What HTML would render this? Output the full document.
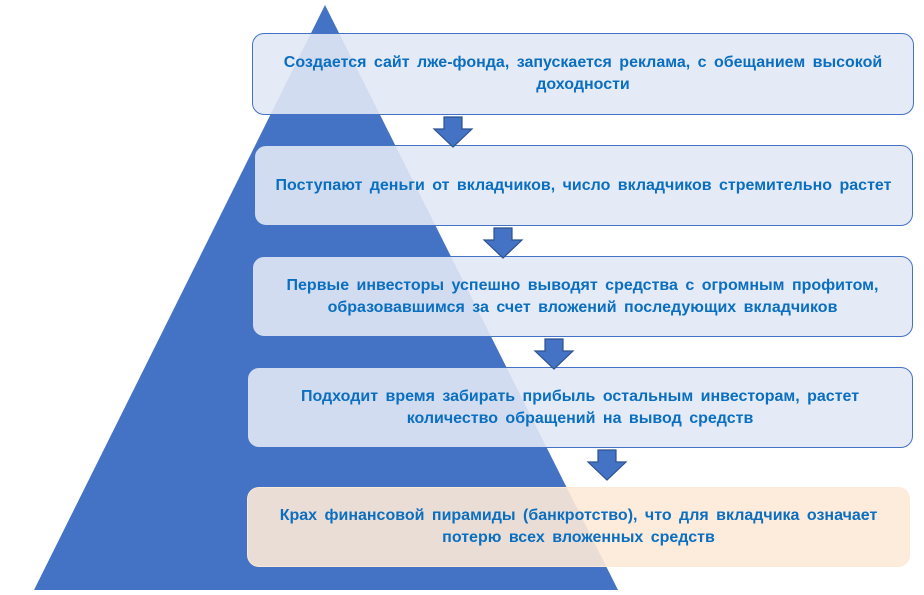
<!DOCTYPE html>
<html><head><meta charset="utf-8"><style>
body{margin:0;width:924px;height:595px;background:#fff;position:relative;overflow:hidden;font-family:"Liberation Sans",sans-serif}
.b{position:absolute;box-sizing:border-box;border:1.5px solid #4472c4;border-radius:12px;background:rgba(225,232,245,0.9);display:flex;align-items:center;justify-content:center;text-align:center;color:#0a6fc0;font-weight:bold;font-size:16px;line-height:22px;padding:0 6px;word-spacing:3px;white-space:nowrap}
.p{background:rgba(253,233,216,0.9);border-color:rgba(253,233,216,0.9)}
</style></head><body>
<svg width="924" height="595" style="position:absolute;left:0;top:0">
<polygon points="325,5 34,590 618,590" fill="#4472c4"/>
</svg>
<div class="b" style="left:252px;top:33px;width:662px;height:82px">Создается сайт лже-фонда, запускается реклама, с обещанием высокой<br>доходности</div>
<div class="b" style="left:254px;top:145px;width:659px;height:81px">Поступают деньги от вкладчиков, число вкладчиков стремительно растет</div>
<div class="b" style="left:252px;top:256px;width:661px;height:81px">Первые инвесторы успешно выводят средства с огромным профитом,<br>образовавшимся за счет вложений последующих вкладчиков</div>
<div class="b" style="left:247px;top:367px;width:666px;height:81px">Подходит время забирать прибыль остальным инвесторам, растет<br>количество обращений на вывод средств</div>
<div class="b p" style="left:247px;top:487px;width:663px;height:80px">Крах финансовой пирамиды (банкротство), что для вкладчика означает<br>потерю всех вложенных средств</div>
<svg width="924" height="595" style="position:absolute;left:0;top:0">
<g fill="#4472c4" stroke="#2f528f" stroke-width="1.2">
<polygon points="444,117 462,117 462,129 472,129 453,147 434,129 444,129"/>
<polygon points="494,228 512,228 512,240 522,240 503,258 484,240 494,240"/>
<polygon points="545,339 563,339 563,351 573,351 554,369 535,351 545,351"/>
<polygon points="598,450 616,450 616,462 626,462 607,480 588,462 598,462"/>
</g></svg>
</body></html>
